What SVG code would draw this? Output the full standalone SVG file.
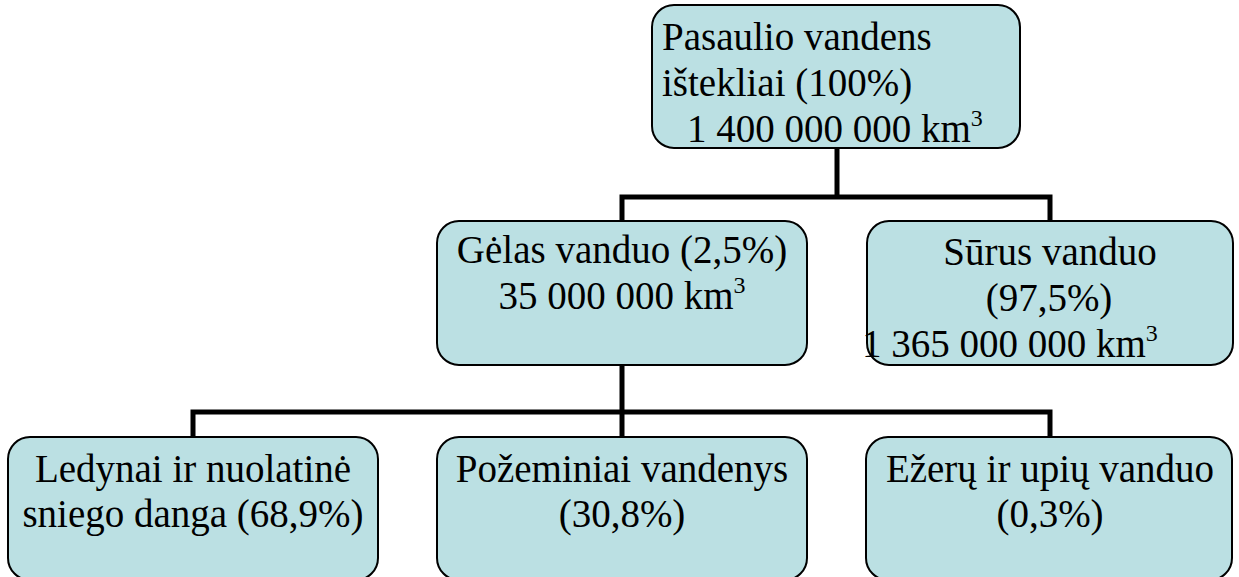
<svg xmlns="http://www.w3.org/2000/svg" width="1239" height="577" viewBox="0 0 1239 577">
<style>
.box{fill:#BBE0E3;stroke:#000;stroke-width:2}
text{font-family:'Liberation Serif','DejaVu Serif',serif;font-size:39px;fill:#000}
.c{text-anchor:middle}
.sup{font-size:24px}
.conn{fill:none;stroke:#000;stroke-width:5}
</style>
<rect width="1239" height="577" fill="#fff"/>
<g id="connectors">
<path class="conn" d="M837 148V197M622 221V197H1050V221"/>
<path class="conn" d="M622 365V412M193 437V412H1050V437M622 412V437"/>
</g>
<g id="n-total">
<rect class="box" x="652" y="5" width="368" height="143" rx="22"/>
<text font-family="Liberation Serif" x="662" y="50">Pasaulio vandens</text>
<text font-family="Liberation Serif" x="662" y="96">ištekliai (100%)</text>
<text font-family="Liberation Serif" x="687" y="142">1 400 000 000 km<tspan class="sup" dy="-16">3</tspan></text>
</g>
<g id="n-fresh">
<rect class="box" x="437" y="221" width="370" height="144" rx="22"/>
<text font-family="Liberation Serif" class="c" x="622" y="263">Gėlas vanduo (2,5%)</text>
<text font-family="Liberation Serif" class="c" x="622" y="309">35 000 000 km<tspan class="sup" dy="-16">3</tspan></text>
</g>
<g id="n-salt">
<rect class="box" x="867" y="221" width="366" height="144" rx="22"/>
<text font-family="Liberation Serif" class="c" x="1050" y="265">Sūrus vanduo</text>
<text font-family="Liberation Serif" class="c" x="1049" y="311">(97,5%)</text>
<text font-family="Liberation Serif" x="862" y="357">1 365 000 000 km<tspan class="sup" dy="-16">3</tspan></text>
</g>
<g id="n-ice">
<rect class="box" x="8" y="437" width="370" height="143" rx="22"/>
<text font-family="Liberation Serif" class="c" x="193" y="482">Ledynai ir nuolatinė</text>
<text font-family="Liberation Serif" class="c" x="193" y="527">sniego danga (68,9%)</text>
</g>
<g id="n-ground">
<rect class="box" x="437" y="437" width="370" height="143" rx="22"/>
<text font-family="Liberation Serif" class="c" x="622" y="482">Požeminiai vandenys</text>
<text font-family="Liberation Serif" class="c" x="622" y="527">(30,8%)</text>
</g>
<g id="n-lakes">
<rect class="box" x="866" y="437" width="366" height="143" rx="22"/>
<text font-family="Liberation Serif" class="c" x="1050" y="482">Ežerų ir upių vanduo</text>
<text font-family="Liberation Serif" class="c" x="1050" y="527">(0,3%)</text>
</g>
</svg>
